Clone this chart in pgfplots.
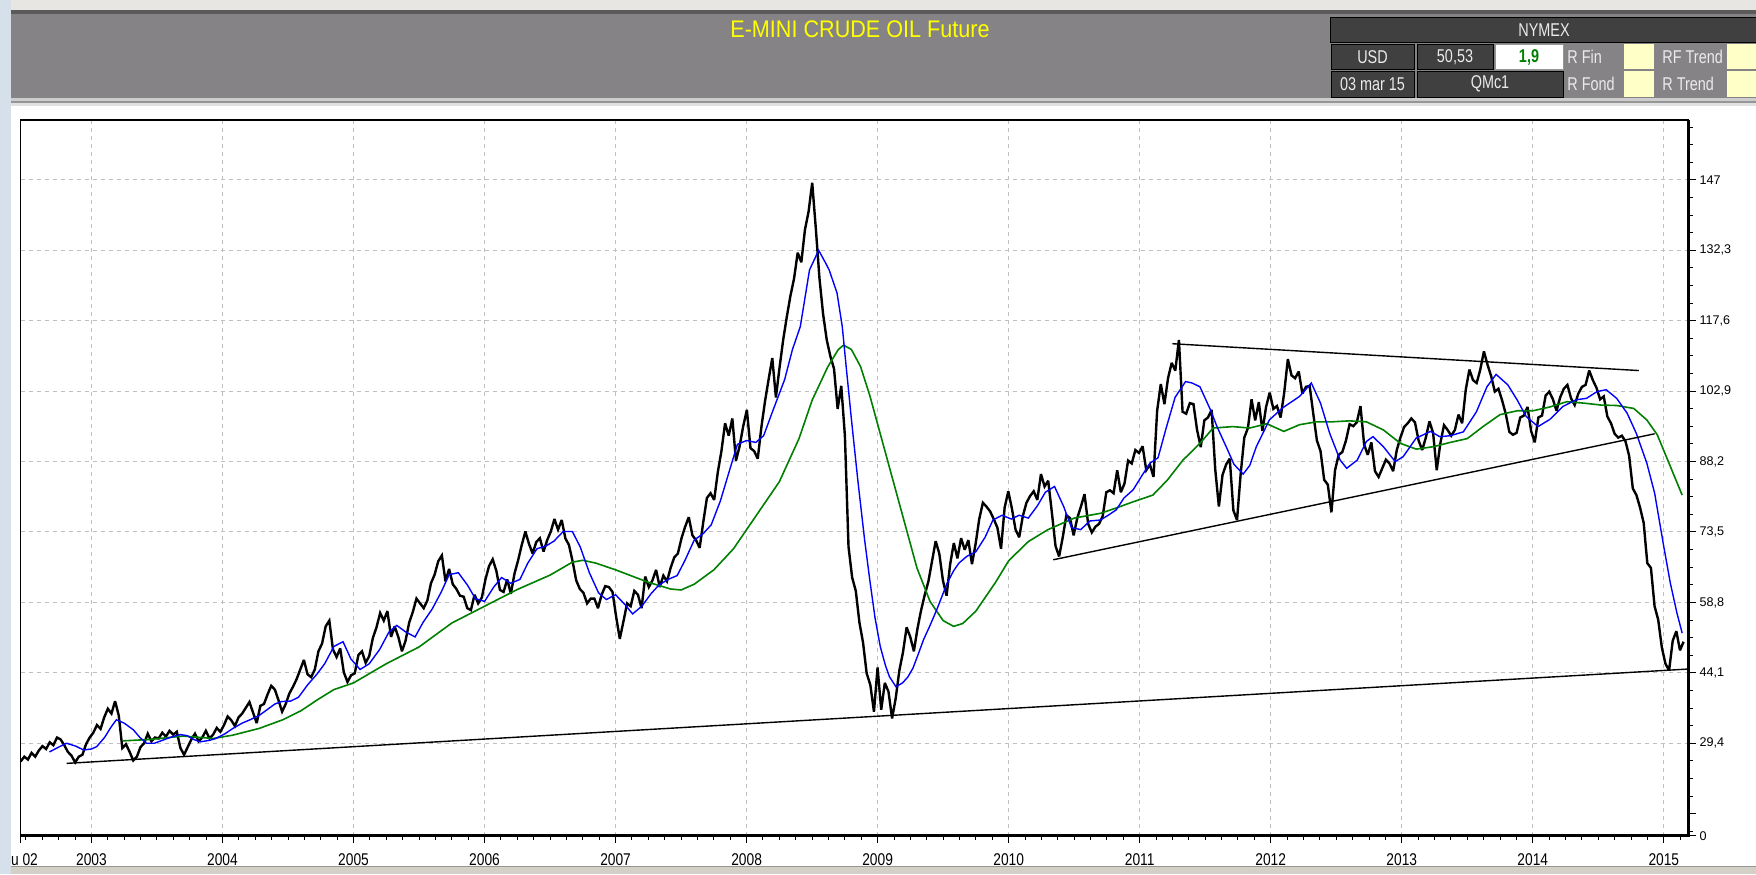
\documentclass[border=0pt]{standalone}
\usepackage{fontspec}
\setmainfont{Liberation Sans}
\newfontfamily\narrowfont[FakeStretch=0.81]{Liberation Sans}
\newfontfamily\panelfont[FakeStretch=0.78]{Liberation Sans}
\newfontfamily\titlefont[FakeStretch=0.9]{Liberation Sans}
\usepackage{pgfplots}
\usepackage{pgfplotstable}
\pgfplotsset{compat=1.18}
\definecolor{barbg}{RGB}{133,131,134}
\definecolor{boxbg}{RGB}{64,64,64}
\definecolor{ylw}{RGB}{255,255,200}
\definecolor{gridc}{RGB}{192,192,192}
\definecolor{mablue}{RGB}{0,0,255}
\definecolor{magreen}{RGB}{0,128,0}
\definecolor{lstrip}{RGB}{214,224,234}
\definecolor{topstrip}{RGB}{232,230,226}
\definecolor{darkline}{RGB}{90,90,90}
\definecolor{lightline}{RGB}{205,205,205}
\definecolor{midline}{RGB}{150,150,150}
\definecolor{paleline}{RGB}{225,225,225}
\definecolor{scroll}{RGB}{212,208,200}
\definecolor{paneltxt}{RGB}{235,235,235}
\definecolor{titley}{RGB}{255,255,0}
\definecolor{fingreen}{RGB}{0,128,0}

% E-mini crude oil, three readings per month (early, mid, late), mid-June 2002 to early March 2015
\pgfplotstableread[row sep=\\]{
p\\
25.6\\ 26.6\\ 26.0\\ 27.4\\ 26.6\\ 27.9\\ 28.8\\ 28.2\\ 29.6\\ 29.0\\ 30.6\\ 30.2\\ 29.0\\ 27.6\\ 26.8\\ 25.4\\ 26.6\\ 27.0\\ 29.2\\ 30.6\\
31.6\\ 33.2\\ 32.4\\ 34.8\\ 36.6\\ 35.6\\ 38.2\\ 35.2\\ 28.4\\ 29.2\\ 27.6\\ 25.8\\ 26.6\\ 28.6\\ 29.4\\ 31.4\\ 29.8\\ 30.6\\ 30.4\\ 31.6\\ 30.8\\ 32.0\\ 31.2\\ 31.8\\ 28.4\\ 27.0\\ 28.6\\ 30.2\\ 31.4\\ 29.8\\ 30.6\\ 32.0\\ 30.4\\ 31.2\\ 32.6\\ 31.8\\
33.2\\ 35.0\\ 34.2\\ 33.0\\ 34.8\\ 35.6\\ 36.8\\ 38.0\\ 35.8\\ 33.6\\ 37.2\\ 37.6\\ 39.6\\ 41.4\\ 40.6\\ 38.4\\ 36.0\\ 37.6\\ 39.8\\ 41.2\\ 42.8\\ 44.8\\ 46.8\\ 43.8\\ 43.2\\ 44.8\\ 48.6\\ 50.2\\ 53.8\\ 55.0\\ 49.0\\ 47.4\\ 49.2\\ 44.2\\ 42.2\\ 43.6\\
44.0\\ 47.8\\ 48.6\\ 46.2\\ 47.6\\ 51.4\\ 53.6\\ 56.6\\ 55.0\\ 57.0\\ 51.6\\ 53.8\\ 51.6\\ 48.6\\ 50.8\\ 54.6\\ 56.8\\ 59.6\\ 58.6\\ 57.6\\ 59.2\\ 62.8\\ 64.6\\ 67.4\\ 68.6\\ 63.2\\ 65.8\\ 62.6\\ 61.6\\ 60.2\\ 60.0\\ 57.6\\ 57.2\\ 60.4\\ 58.6\\ 59.8\\
63.6\\ 66.4\\ 67.8\\ 65.4\\ 61.4\\ 61.0\\ 63.6\\ 60.6\\ 64.8\\ 67.6\\ 70.8\\ 73.6\\ 71.0\\ 69.0\\ 71.4\\ 72.2\\ 69.4\\ 71.8\\ 73.6\\ 76.2\\ 74.0\\ 76.0\\ 72.2\\ 70.8\\ 67.4\\ 63.4\\ 61.6\\ 60.8\\ 58.6\\ 59.6\\ 59.6\\ 57.6\\ 60.4\\ 62.2\\ 62.0\\ 61.0\\
55.8\\ 51.2\\ 54.8\\ 58.6\\ 58.0\\ 61.2\\ 60.4\\ 57.6\\ 64.2\\ 62.0\\ 63.4\\ 65.6\\ 62.0\\ 64.4\\ 63.2\\ 66.0\\ 68.2\\ 69.0\\ 72.2\\ 74.6\\ 76.6\\ 72.8\\ 71.8\\ 70.2\\ 75.6\\ 80.6\\ 81.6\\ 80.2\\ 86.0\\ 90.4\\ 96.2\\ 93.6\\ 97.2\\ 88.4\\ 91.4\\ 95.6\\
99.0\\ 91.0\\ 90.4\\ 88.8\\ 95.4\\ 100.8\\ 105.4\\ 109.8\\ 101.6\\ 107.8\\ 113.6\\ 118.4\\ 122.8\\ 126.4\\ 131.8\\ 129.8\\ 136.6\\ 140.4\\ 146.4\\ 136.8\\ 126.4\\ 119.0\\ 113.6\\ 110.2\\ 107.6\\ 99.2\\ 104.0\\ 93.6\\ 70.4\\ 64.0\\ 61.2\\ 54.6\\ 50.4\\ 44.0\\ 41.6\\ 36.0\\
45.2\\ 36.4\\ 42.0\\ 40.2\\ 34.6\\ 38.8\\ 44.6\\ 48.4\\ 53.6\\ 51.6\\ 48.6\\ 53.4\\ 57.2\\ 60.4\\ 63.2\\ 67.4\\ 71.6\\ 69.0\\ 63.4\\ 60.2\\ 66.8\\ 71.2\\ 68.0\\ 72.2\\ 69.8\\ 71.8\\ 66.8\\ 71.0\\ 76.2\\ 79.6\\ 78.8\\ 77.8\\ 76.2\\ 74.4\\ 70.0\\ 78.6\\
82.0\\ 78.4\\ 74.0\\ 72.4\\ 76.8\\ 79.6\\ 81.0\\ 82.0\\ 80.2\\ 85.6\\ 83.0\\ 84.2\\ 77.6\\ 70.6\\ 68.4\\ 72.4\\ 77.0\\ 76.4\\ 72.8\\ 76.4\\ 78.8\\ 81.4\\ 75.2\\ 73.4\\ 74.6\\ 75.2\\ 76.8\\ 81.8\\ 82.2\\ 81.6\\ 86.4\\ 81.8\\ 83.6\\ 88.4\\ 87.8\\ 90.6\\
90.0\\ 91.4\\ 86.4\\ 87.6\\ 85.0\\ 98.8\\ 104.4\\ 100.2\\ 105.6\\ 108.8\\ 107.2\\ 113.6\\ 98.6\\ 98.2\\ 100.4\\ 100.2\\ 94.8\\ 91.2\\ 96.8\\ 97.4\\ 99.0\\ 86.6\\ 78.8\\ 85.4\\ 87.6\\ 88.8\\ 78.0\\ 76.0\\ 85.6\\ 93.2\\ 95.2\\ 101.2\\ 96.8\\ 100.6\\ 94.6\\ 99.6\\
102.6\\ 99.2\\ 99.8\\ 97.4\\ 102.6\\ 109.6\\ 106.2\\ 105.6\\ 107.0\\ 102.4\\ 103.8\\ 104.0\\ 98.2\\ 92.6\\ 90.4\\ 84.4\\ 83.4\\ 77.6\\ 86.4\\ 89.6\\ 90.2\\ 92.6\\ 96.0\\ 95.6\\ 96.4\\ 99.8\\ 91.8\\ 89.6\\ 92.2\\ 86.2\\ 85.0\\ 86.8\\ 88.6\\ 87.8\\ 86.2\\ 90.6\\
93.2\\ 95.4\\ 96.2\\ 97.2\\ 96.4\\ 92.6\\ 90.6\\ 93.2\\ 96.6\\ 94.2\\ 86.4\\ 92.0\\ 95.8\\ 94.8\\ 93.6\\ 94.8\\ 98.0\\ 96.2\\ 103.2\\ 107.4\\ 105.2\\ 104.6\\ 107.4\\ 111.2\\ 108.4\\ 106.0\\ 102.8\\ 103.4\\ 101.0\\ 98.2\\ 94.4\\ 93.8\\ 94.2\\ 97.4\\ 97.8\\ 99.6\\
94.6\\ 92.2\\ 97.4\\ 97.8\\ 102.0\\ 102.8\\ 101.2\\ 98.8\\ 101.6\\ 103.4\\ 104.2\\ 101.4\\ 100.0\\ 102.4\\ 103.8\\ 104.2\\ 107.2\\ 105.2\\ 103.6\\ 101.2\\ 101.8\\ 97.6\\ 96.2\\ 94.0\\ 93.2\\ 93.6\\ 92.4\\ 89.4\\ 82.6\\ 81.2\\ 78.6\\ 75.4\\ 67.0\\ 66.0\\ 58.0\\ 55.2\\
49.4\\ 46.0\\ 44.6\\ 50.8\\ 52.8\\ 48.8\\ 50.6\\
}\price

\begin{document}
\begin{tikzpicture}
\begin{scope}[x=0.5pt,y=-0.5pt]
\useasboundingbox (0,0) rectangle (1756,874);
\fill[white] (0,0) rectangle (1756,874);
\fill[lstrip] (0,0) rectangle (11,874);
\fill[topstrip] (11,0) rectangle (1756,10);
\fill[darkline] (11,10) rectangle (1756,14);
\fill[barbg] (11,14) rectangle (1756,98);
\fill[lightline] (11,98) rectangle (1756,101);
\fill[midline] (11,101) rectangle (1756,103);
\fill[paleline] (11,103) rectangle (1756,106);
\fill[scroll] (11,866) rectangle (1756,874);
\draw[midline] (11,866) -- (1756,866);
% title
\node[text=titley, font=\titlefont\fontsize{12pt}{13pt}\selectfont] at (860,29) {E-MINI CRUDE OIL Future};
% info panel
\begin{scope}[every node/.style={text=paneltxt, font=\panelfont\fontsize{9.25pt}{10pt}\selectfont, inner sep=0pt}]
\draw[black, fill=boxbg] (1330,17) rectangle (1762,42);
\node at (1544,30) {NYMEX};
\draw[black, fill=boxbg] (1331,44) rectangle (1414,69);
\node at (1372.5,57) {USD};
\draw[black, fill=boxbg] (1417,44) rectangle (1493,69);
\node at (1455,57) {50,53};
\draw[midline, fill=white] (1495,44) rectangle (1563,69);
\node[text=fingreen, font=\panelfont\bfseries\fontsize{9.25pt}{10pt}\selectfont] at (1529,57) {1,9};
\node[anchor=west] at (1567,57) {R Fin};
\fill[ylw] (1624,44) rectangle (1654,69);
\node[anchor=west] at (1662,57) {RF Trend};
\fill[ylw] (1727,44) rectangle (1760,69);
\draw[black, fill=boxbg] (1331,71) rectangle (1414,97);
\node at (1372.5,84) {03 mar 15};
\draw[black, fill=boxbg] (1417,71) rectangle (1563,97);
\node at (1490,84) {QMc1};
\node[anchor=west] at (1567,84) {R Fond};
\fill[ylw] (1624,71) rectangle (1654,97);
\node[anchor=west] at (1662,84) {R Trend};
\fill[ylw] (1727,71) rectangle (1760,97);
\end{scope}
\end{scope}

\begin{axis}[
  name=ax,
  at={(10.35pt,-417.85pt)}, anchor=south west,
  scale only axis, width=834pt, height=357.85pt,
  xmin=2002.46, xmax=2015.19, ymin=10.1, ymax=159.5,
  axis line style={draw=none},
  xtick={2003,2004,2005,2006,2007,2008,2009,2010,2011,2012,2013,2014,2015},
  minor xtick={2002.5,2002.625,...,2015.2},
  ytick={29.4,44.1,58.8,73.5,88.2,102.9,117.6,132.3,147},
  minor ytick={3.675,7.35,...,158.2},
  extra y ticks={10.1,14.7}, extra y tick labels={0,{}},
  extra y tick style={grid=none},
  extra x ticks={2002.46}, extra x tick labels={u 02},
  extra x tick style={grid=none, tick label style={xshift=1.9pt}},
  xtick pos=left, ytick pos=right, yticklabel pos=right,
  tick align=outside,
  major tick length=3.75pt, minor tick length=2.25pt,
  tick style={black, line width=0.5pt},
  grid=major,
  major grid style={gridc, dash pattern=on 2pt off 2pt, line width=0.5pt},
  /pgf/number format/assume math mode=true,
  xticklabel style={font=\narrowfont\fontsize{8.5pt}{9pt}\selectfont, /pgf/number format/1000 sep={}, /pgf/number format/fixed, /pgf/number format/precision=0, inner sep=0pt, anchor=north, yshift=-5pt},
  yticklabel style={font=\fontsize{6.3pt}{7pt}\selectfont, /pgf/number format/use comma, /pgf/number format/fixed, /pgf/number format/precision=1, /pgf/number format/1000 sep={}, inner sep=0pt, anchor=west, xshift=1.5pt},
]
\addplot[black, line width=1.2pt, line join=miter, miter limit=3, mark=none] table[x expr={2002.46+\coordindex*0.02771}, y=p] {\price};
\addplot[magreen, line width=0.8pt, mark=none] coordinates {
(2003.24,29.9) (2003.45,30.2) (2003.7,30.9) (2003.93,30.4) (2004.08,31.1) (2004.28,32.5) (2004.46,34.3) (2004.6,36.2) (2004.72,38.4) (2004.85,40.6) (2005.0,42.0) (2005.25,46.0) (2005.5,49.5) (2005.75,54.5) (2006.0,58.0) (2006.25,61.5) (2006.5,64.5) (2006.67,67.2) (2006.75,67.6) (2006.85,67.0) (2007.0,65.6) (2007.25,63.0) (2007.42,61.6) (2007.5,61.4) (2007.6,62.6) (2007.75,65.6) (2007.9,70.0) (2008.0,74.0) (2008.25,84.0) (2008.4,93.0) (2008.5,101.0) (2008.62,108.0) (2008.7,111.6) (2008.74,112.5) (2008.8,111.6) (2008.87,108.0) (2008.94,102.0) (2009.0,96.0) (2009.1,86.0) (2009.2,76.0) (2009.3,66.0) (2009.4,59.0) (2009.5,55.0) (2009.58,53.8) (2009.65,54.4) (2009.75,57.0) (2009.9,63.0) (2010.0,67.5) (2010.15,71.5) (2010.3,74.0) (2010.5,76.4) (2010.7,77.4) (2010.82,78.5) (2010.95,79.8) (2011.10,81.2) (2011.21,84.3) (2011.33,88.5) (2011.46,92.0) (2011.56,95.2) (2011.71,95.5) (2011.84,95.2) (2011.97,96.1) (2012.10,94.5) (2012.22,95.9) (2012.35,96.5) (2012.47,96.5) (2012.60,96.7) (2012.73,96.5) (2012.86,94.8) (2012.99,92.0) (2013.11,90.8) (2013.24,91.3) (2013.37,92.2) (2013.50,93.0) (2013.62,95.5) (2013.75,98.0) (2013.88,98.8) (2014.0,98.8) (2014.13,99.6) (2014.26,100.7) (2014.39,100.4) (2014.52,100.0) (2014.64,99.9) (2014.77,99.3) (2014.87,96.9) (2014.95,93.8) (2015.03,88.5) (2015.14,81.2)
};
\addplot[mablue, line width=0.7pt, mark=none] coordinates {
(2002.68,27.6) (2002.75,28.6) (2002.81,29.4) (2002.88,28.8) (2002.94,28.0) (2003.0,28.2) (2003.04,28.7) (2003.1,30.6) (2003.15,32.8) (2003.19,34.3) (2003.25,33.6) (2003.32,32.2) (2003.37,30.6) (2003.42,29.4) (2003.48,29.4) (2003.55,30.1) (2003.62,30.8) (2003.68,31.2) (2003.73,31.0) (2003.78,30.2) (2003.83,29.7) (2003.9,30.0) (2003.95,30.4) (2004.02,31.4) (2004.08,32.5) (2004.15,33.6) (2004.21,34.3) (2004.28,35.2) (2004.34,36.4) (2004.40,37.6) (2004.45,38.1)
(2004.52,38.2) (2004.58,39.0) (2004.65,41.6) (2004.72,43.8) (2004.78,46.0) (2004.85,49.6) (2004.92,50.6) (2004.98,47.0) (2005.05,44.8) (2005.12,46.0) (2005.2,49.0) (2005.27,52.6) (2005.33,54.0) (2005.4,52.6) (2005.47,51.6) (2005.53,54.6) (2005.6,57.4) (2005.67,61.0) (2005.73,64.6) (2005.8,65.0) (2005.87,62.4) (2005.93,59.6) (2006.0,59.0) (2006.07,62.0) (2006.13,64.0) (2006.2,62.8) (2006.27,63.6) (2006.33,67.0) (2006.4,70.0) (2006.47,70.6) (2006.53,71.6) (2006.6,73.6) (2006.67,73.6) (2006.73,70.4) (2006.8,65.0) (2006.87,60.8) (2006.93,59.4) (2007.0,60.4) (2007.07,58.4) (2007.13,56.4) (2007.2,58.0) (2007.27,60.6) (2007.33,62.4) (2007.4,63.6) (2007.47,64.4) (2007.53,67.6) (2007.6,71.8) (2007.67,73.2) (2007.73,75.0) (2007.8,80.0) (2007.87,86.4) (2007.93,91.8) (2008.0,92.6) (2008.07,92.2) (2008.13,93.6) (2008.2,98.8) (2008.29,105.3) (2008.35,111.6) (2008.41,116.4) (2008.48,128.2) (2008.55,132.3) (2008.6,129.8) (2008.63,128.2) (2008.69,123.4) (2008.73,116.4) (2008.76,108.0) (2008.8,97.0) (2008.85,84.0) (2008.9,72.0) (2008.94,63.5) (2008.98,55.6) (2009.02,49.6) (2009.06,45.6) (2009.09,43.3) (2009.14,41.2) (2009.19,42.0) (2009.23,43.2) (2009.27,45.1) (2009.31,48.0) (2009.35,51.0) (2009.40,54.0) (2009.45,57.2) (2009.53,62.8) (2009.58,65.4)
(2009.62,67.0) (2009.68,68.4) (2009.75,69.4) (2009.82,72.4) (2009.88,76.0) (2009.95,77.0) (2010.02,76.2) (2010.08,77.0) (2010.15,76.4) (2010.22,79.0) (2010.28,81.8) (2010.35,83.0) (2010.42,78.8) (2010.48,74.4) (2010.55,74.0) (2010.62,75.8) (2010.7,76.0) (2010.76,77.0) (2010.82,78.1) (2010.88,80.6) (2010.95,82.3) (2011.02,85.4) (2011.08,87.9) (2011.14,89.0) (2011.2,95.0) (2011.27,101.6) (2011.35,104.9) (2011.4,104.6) (2011.46,103.8) (2011.54,99.0) (2011.59,95.5) (2011.66,91.3) (2011.72,87.6) (2011.79,85.6) (2011.84,87.4) (2011.89,91.3) (2011.99,96.9) (2012.09,99.4) (2012.22,101.8) (2012.31,104.6) (2012.38,100.4) (2012.45,94.1) (2012.53,88.5) (2012.58,86.8) (2012.66,88.5) (2012.73,92.4) (2012.78,93.4) (2012.86,91.3) (2012.95,88.2) (2013.01,89.2) (2013.11,93.1) (2013.22,94.5) (2013.29,93.4) (2013.37,93.6) (2013.47,94.4) (2013.57,98.6) (2013.65,103.8) (2013.72,106.4) (2013.81,104.2) (2013.88,101.1) (2013.95,97.6) (2014.04,95.5) (2014.13,97.0) (2014.23,99.7) (2014.33,101.1) (2014.41,101.4) (2014.49,102.8) (2014.56,103.2) (2014.64,101.4) (2014.72,98.3) (2014.79,94.1) (2014.87,87.9) (2014.93,81.6) (2015.0,70.4) (2015.05,62.8) (2015.1,56.6) (2015.14,52.4)
};
\addplot[black, line width=0.7pt, mark=none] coordinates {(2002.81,25.2) (2015.19,44.9)};
\addplot[black, line width=0.7pt, mark=none] coordinates {(2010.34,67.7) (2014.93,94.0)};
\addplot[black, line width=0.7pt, mark=none] coordinates {(2011.25,112.8) (2014.81,107.2)};
\end{axis}
\draw[black, line width=0.7pt] (ax.south west) -- (ax.north west) -- (ax.north east);
\draw[black, line width=1.3pt] (ax.south west) -- (ax.south east) -- (ax.north east);
\end{tikzpicture}
\end{document}
